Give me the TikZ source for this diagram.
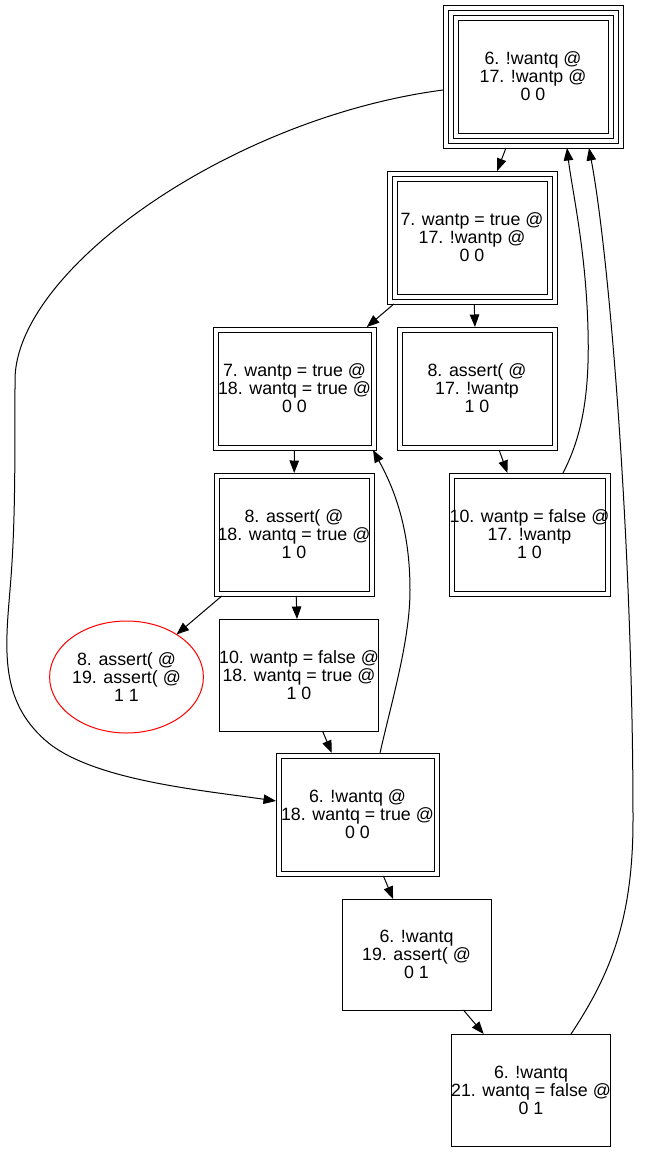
\documentclass[tikz,border=0pt]{standalone}
\usepackage{fontspec}
\setmainfont{Liberation Sans}
\usetikzlibrary{arrows.meta,shapes.geometric}

% draw extra nested borders inside a rectangular state node
\newcommand\innerrings[2]{%
  \foreach \k in {1,...,#2}{%
    \pgfmathsetmacro\gap{\k*5}%
    \draw[ring] ([xshift=\gap pt,yshift=\gap pt]#1.south west)
      rectangle ([xshift=-\gap pt,yshift=-\gap pt]#1.north east);
  }%
}

\begin{document}
\begin{tikzpicture}[x=1pt,y=-1pt,
  state/.style={draw, line width=1pt, rectangle, inner sep=0pt, outer sep=0pt,
    align=center, font=\fontsize{17.8}{18}\selectfont},
  ring/.style={line width=1pt},
  bad/.style={draw=red, line width=1pt, ellipse, inner sep=0pt, outer sep=0pt,
    align=center, font=\fontsize{17.8}{18}\selectfont},
  edge/.style={line width=1pt, -{Triangle[length=12.5pt,width=9.5pt]}},
]
\useasboundingbox (0,0) rectangle (651,1152);

% states
\node[state, minimum width=180pt, minimum height=143pt] (n1) at (533,76.5)
  {6. !wantq @\\17. !wantp @\\0 0};
\innerrings{n1}{3}
\node[state, minimum width=170pt, minimum height=133pt] (n2) at (472,237.5)
  {7. wantp = true @\\17. !wantp @\\0 0};
\innerrings{n2}{2}
\node[state, minimum width=163pt, minimum height=123pt] (n3) at (294.5,388.5)
  {7. wantp = true @\\18. wantq = true @\\0 0};
\innerrings{n3}{1}
\node[state, minimum width=160pt, minimum height=123pt] (n4) at (477,388.5)
  {8. assert( @\\17. !wantp\\1 0};
\innerrings{n4}{1}
\node[state, minimum width=160pt, minimum height=123pt] (n5) at (294,534.5)
  {8. assert( @\\18. wantq = true @\\1 0};
\innerrings{n5}{1}
\node[state, minimum width=161pt, minimum height=123pt] (n6) at (529.5,534.5)
  {10. wantp = false @\\17. !wantp\\1 0};
\innerrings{n6}{1}
\node[bad, minimum width=149pt, minimum height=112pt] (n7) at (126.5,677)
  {8. assert( @\\19. assert( @\\1 1};
\node[state, minimum width=149pt, minimum height=112pt] (n8) at (299,675)
  {10. wantp = false @\\18. wantq = true @\\1 0};
\node[state, minimum width=163pt, minimum height=123pt] (n9) at (357.5,814.5)
  {6. !wantq @\\18. wantq = true @\\0 0};
\innerrings{n9}{1}
\node[state, minimum width=149pt, minimum height=111pt] (n10) at (416.5,954.5)
  {6. !wantq\\19. assert( @\\0 1};
\node[state, minimum width=150pt, minimum height=112pt] (n11) at (531,1090)
  {6. !wantq\\21. wantq = false @\\0 1};

% straight transitions
\draw[edge] (n1) -- (n2);
\draw[edge] (n2) -- (n3);
\draw[edge] (n2) -- (n4);
\draw[edge] (n3) -- (n5);
\draw[edge] (n4) -- (n6);
\draw[edge] (n5) -- (n7);
\draw[edge] (n5) -- (n8);
\draw[edge] (n8) -- (n9);
\draw[edge] (n9) -- (n10);
\draw[edge] (n10) -- (n11);

% curved transitions
\draw[edge] ([xshift=22.5pt]n9.north)
  .. controls (392,700) and (410,640) .. (410,590)
  .. controls (410,530) and (395,490) .. ([xshift=-3pt]n3.south east);
\draw[edge] ([xshift=33.5pt]n6.north)
  .. controls (580,440) and (590,400) .. (588,330)
  .. controls (586,250) and (572,190) .. ([xshift=34pt]n1.south);
\draw[edge] ([xshift=40pt]n11.north)
  .. controls (610,975) and (633,920) .. (633,820)
  .. controls (633,550) and (610,260) .. ([xshift=56pt]n1.south);
\draw[edge] ([yshift=-13.5pt]n1.west)
  .. controls (230,118) and (15,270) .. (15,380)
  .. controls (15,480) and (15,530) .. (10,590)
  .. controls (5,650) and (0,700) .. (45,740)
  .. controls (90,780) and (200,790) .. ([yshift=13.5pt]n9.west);
\end{tikzpicture}
\end{document}
